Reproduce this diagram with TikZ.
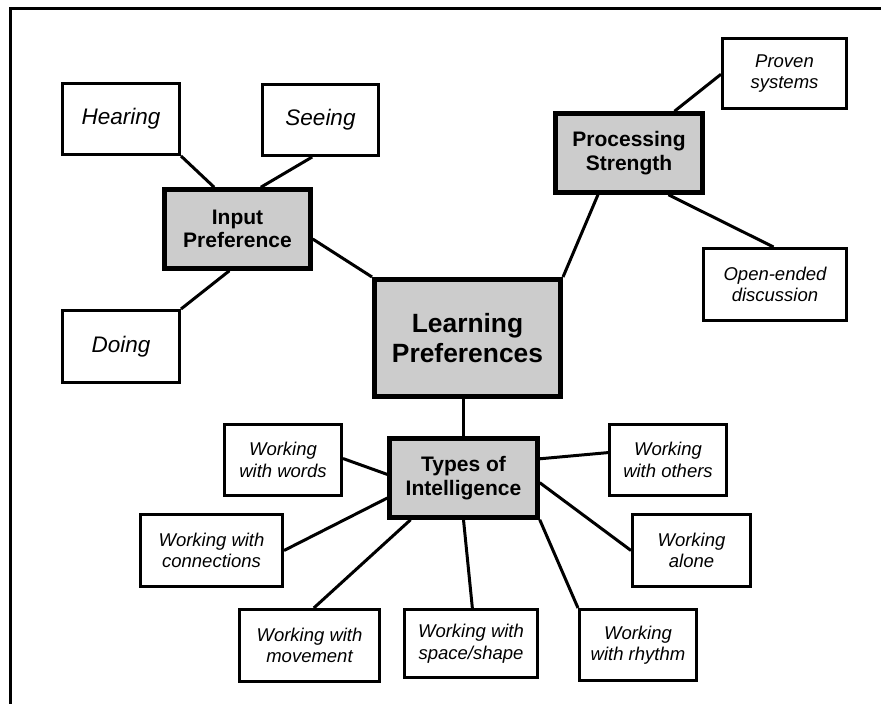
\documentclass[tikz,border=0pt]{standalone}
\usepackage{fontspec}
\setmainfont{Liberation Sans}
\usetikzlibrary{calc}
\definecolor{boxgray}{HTML}{CCCCCC}
\tikzset{
  leaf/.style={draw=black, line width=3pt, fill=white, align=center, inner sep=0pt,
    font=\fontsize{18.5}{21.5}\selectfont\itshape},
  bigleaf/.style={leaf, font=\fontsize{22.5}{26}\selectfont\itshape},
  hub/.style={draw=black, line width=4.5pt, fill=boxgray, align=center, inner sep=0pt,
    font=\fontsize{21}{23.5}\selectfont\bfseries},
  root/.style={hub, line width=5pt, font=\fontsize{26.4}{30}\selectfont\bfseries},
  link/.style={line width=3pt},
  frame/.style={line width=3pt}
}
\newcommand{\bx}[7]{% style, name, x1, y1, x2, y2, text
  \node[#1, minimum width={#5-#3-3}, minimum height={#6-#4-3}] (#2) at ({(#3+#5)/2},{(#4+#6)/2}) {#7};}
\begin{document}
\begin{tikzpicture}[x=1pt,y=-1pt]
\useasboundingbox (0,0) rectangle (881,704);
\coordinate (fTL) at (10.5,8.5);
\coordinate (fTR) at (881,8.5);
\coordinate (fBL) at (10.5,704);
\draw[frame] (fBL) -- (fTL) -- (fTR);

\bx{bigleaf}{hear}{61}{82}{181}{156}{Hearing}
\bx{bigleaf}{see}{261}{83}{380}{157}{Seeing}
\bx{bigleaf}{doing}{61}{309}{181}{384}{Doing}
\bx{hub}{inp}{163}{188}{312}{270}{Input\\Preference}
\bx{root}{lp}{373}{278}{562}{398}{Learning\\Preferences}
\bx{hub}{proc}{554}{112}{704}{194}{Processing\\Strength}
\bx{leaf}{prov}{721}{37}{848}{110}{Proven\\systems}
\bx{leaf}{open}{702}{247}{848}{322}{Open-ended\\discussion}
\bx{hub}{types}{388}{437}{539}{519}{Types of\\Intelligence}
\bx{leaf}{words}{223}{423}{343}{497}{Working\\with words}
\bx{leaf}{conn}{139}{513}{284}{588}{Working with\\connections}
\bx{leaf}{move}{238}{608}{381}{683}{Working with\\movement}
\bx{leaf}{space}{403}{608}{539}{679}{Working with\\space/shape}
\bx{leaf}{rhythm}{578}{608}{698}{682}{Working\\with rhythm}
\bx{leaf}{alone}{631}{513}{752}{588}{Working\\alone}
\bx{leaf}{others}{608}{423}{728}{497}{Working\\with others}

\begin{scope}[on background layer/.style={}]
\end{scope}
% connectors
\draw[link] (hear.south east) -- ($(inp.north west)!0.345!(inp.north east)$);
\draw[link] ($(see.south west)!0.43!(see.south east)$) -- ($(inp.north west)!0.655!(inp.north east)$);
\draw[link] (doing.north east) -- ($(inp.south west)!0.446!(inp.south east)$);
\draw[link] ($(inp.north east)!0.62!(inp.south east)$) -- (lp.north west);
\draw[link] ($(proc.south west)!0.295!(proc.south east)$) -- (lp.north east);
\draw[link] ($(prov.north west)!0.51!(prov.south west)$) -- ($(proc.north west)!0.8!(proc.north east)$);
\draw[link] ($(proc.south west)!0.76!(proc.south east)$) -- ($(open.north west)!0.49!(open.north east)$);
\draw[link] (types.north) -- (types.north |- lp.south);
\draw[link] ($(words.north east)!0.48!(words.south east)$) -- ($(types.north west)!0.457!(types.south west)$);
\draw[link] (conn.east) -- ($(types.north west)!0.74!(types.south west)$);
\draw[link] ($(move.north west)!0.53!(move.north east)$) -- ($(types.south west)!0.153!(types.south east)$);
\draw[link] ($(space.north west)!0.51!(space.north east)$) -- (types.south);
\draw[link] (rhythm.north west) -- (types.south east);
\draw[link] (alone.west) -- ($(types.north east)!0.556!(types.south east)$);
\draw[link] ($(others.north west)!0.4!(others.south west)$) -- ($(types.north east)!0.27!(types.south east)$);
\end{tikzpicture}
\end{document}
